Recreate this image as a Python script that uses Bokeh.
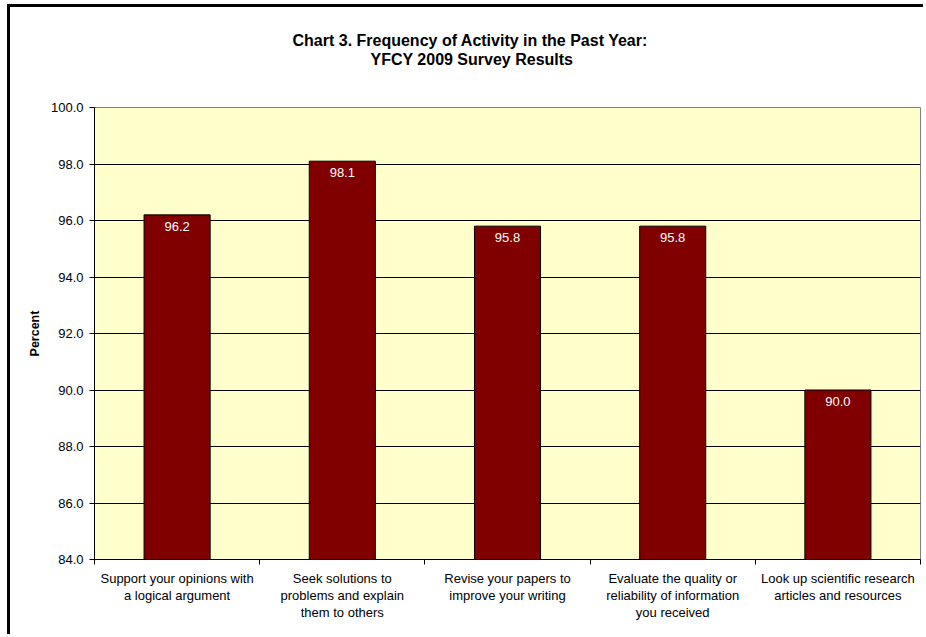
from bokeh.plotting import figure
from bokeh.models import Range1d, FixedTicker, PrintfTickFormatter, Title
from bokeh.core.properties import value
from bokeh.embed import file_html
from bokeh.resources import INLINE

title_lines = ["Chart 3. Frequency of Activity in the Past Year:", "YFCY 2009 Survey Results"]
categories = [
    "Support your opinions with\na logical argument",
    "Seek solutions to\nproblems and explain\nthem to others",
    "Revise your papers to\nimprove your writing",
    "Evaluate the quality or\nreliability of information\nyou received",
    "Look up scientific research\narticles and resources",
]
percent = [96.2, 98.1, 95.8, 95.8, 90.0]
y_ticks = [84.0, 86.0, 88.0, 90.0, 92.0, 94.0, 96.0, 98.0, 100.0]
y_label = "Percent"

FONT = "Liberation Sans"
n = len(categories)
xs = [i + 0.5 for i in range(n)]
bounds = [float(i) for i in range(n + 1)]
labels = ["%.1f" % v for v in percent]

p = figure(
    width=916, height=630,
    x_range=Range1d(0, n), y_range=Range1d(y_ticks[0], y_ticks[-1]),
    output_backend="svg", toolbar_location=None, title=None,
    min_border_left=84, min_border_top=100, min_border_right=6, min_border_bottom=78,
    margin=(7, 0, 0, 10),
    styles={"box-shadow": "-3px -3px 0px 0px black"},
)
p.background_fill_color = "#FFFFCC"
p.border_fill_color = "white"
p.outline_line_color = "#808080"
p.outline_line_width = 1

# spacer between title and plot area, then the two title lines above it
p.add_layout(Title(text=" ", standoff=21, text_font=FONT, text_font_size="16px"), "above")
offsets = [198, 276]
for txt, off in reversed(list(zip(title_lines, offsets))):
    t = Title(text=txt, align="left", offset=off, standoff=0,
              text_font=FONT, text_font_size="16px", text_font_style="bold",
              text_color="black")
    p.add_layout(t, "above")

# bars
p.vbar(x=xs, top=percent, bottom=y_ticks[0], width=0.4,
       fill_color="#800000", line_color="black", line_width=1)
p.text(x=xs, y=percent, text=labels, text_color="white",
       text_align="center", text_baseline="top", y_offset=7,
       text_font=value(FONT), text_font_size="13px")

# x axis
xa = p.xaxis[0]
xa.ticker = FixedTicker(ticks=xs, minor_ticks=bounds)
xa.major_label_overrides = {x: c for x, c in zip(xs, categories)}
xa.major_tick_out = 0
xa.major_tick_in = 0
xa.minor_tick_out = 5
xa.minor_tick_in = 0
xa.minor_tick_line_color = "black"
xa.axis_line_color = "black"
xa.major_label_standoff = 6
xa.major_label_text_font = FONT
xa.major_label_text_font_size = "13px"
xa.major_label_text_color = "black"
xa.major_label_text_line_height = 1.15

# y axis
ya = p.yaxis[0]
ya.ticker = FixedTicker(ticks=y_ticks)
ya.formatter = PrintfTickFormatter(format="%.1f")
ya.major_tick_out = 5
ya.major_tick_in = 0
ya.minor_tick_line_color = None
ya.axis_line_color = "black"
ya.major_tick_line_color = "black"
ya.major_label_standoff = 6
ya.major_label_text_font = FONT
ya.major_label_text_font_size = "13px"
ya.major_label_text_color = "black"
ya.axis_label = y_label
ya.axis_label_text_font = FONT
ya.axis_label_text_font_size = "12.5px"
ya.axis_label_text_font_style = "bold"
ya.axis_label_text_color = "black"
ya.axis_label_standoff = 6

p.xgrid.grid_line_color = None
p.ygrid.ticker = FixedTicker(ticks=y_ticks[1:-1])
p.ygrid.grid_line_color = "black"
p.ygrid.grid_line_width = 1

open("out.html", "w").write(file_html(p, INLINE))
